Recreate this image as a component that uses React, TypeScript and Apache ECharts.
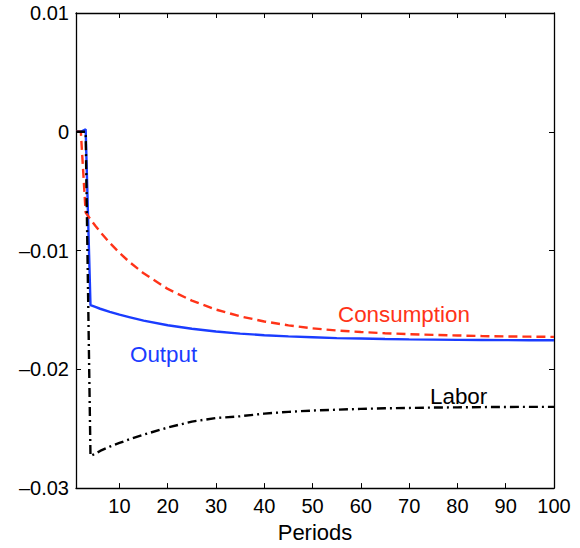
import React, { useEffect, useRef } from "react";
import * as echarts from "echarts";

const periods = [1, 2, 3, 4, 5, 6, 8, 10, 12, 15, 20, 25, 30, 35, 40, 45, 50, 55, 60, 65, 70, 75, 80, 85, 90, 95, 100];
const consumption = [0, 0, -0.0068, -0.00737, -0.00791, -0.00842, -0.00936, -0.01019, -0.01094, -0.01192, -0.01323, -0.01422, -0.01497, -0.01554, -0.01597, -0.0163, -0.01655, -0.01673, -0.01686, -0.01696, -0.01704, -0.0171, -0.01715, -0.0172, -0.01723, -0.01725, -0.01727];
const output = [0, 0, 0.0002, -0.0146, -0.01475, -0.0149, -0.01516, -0.0154, -0.0156, -0.0159, -0.01629, -0.01658, -0.01681, -0.01699, -0.01713, -0.01723, -0.0173, -0.01737, -0.01741, -0.01745, -0.01748, -0.0175, -0.01752, -0.01753, -0.01754, -0.01755, -0.01755];
const labor = [0, 0, 0, -0.0273, -0.0271, -0.02687, -0.0265, -0.0262, -0.0259, -0.0255, -0.0249, -0.0244, -0.0241, -0.02395, -0.02373, -0.02358, -0.02347, -0.0234, -0.02333, -0.02328, -0.02325, -0.02322, -0.0232, -0.02318, -0.02317, -0.02316, -0.02316];

const xTicks = [10, 20, 30, 40, 50, 60, 70, 80, 90, 100];
const yTicks = [-0.03, -0.02, -0.01, 0, 0.01];

const FONT = '"Liberation Sans", Arial, Helvetica, sans-serif';
const RED = "#ff3318";
const BLUE = "#1a3cff";

const pairs = (ys: number[]) => periods.map((p, i) => [p, ys[i]]);

export default function App() {
  const ref = useRef<HTMLDivElement>(null);
  useEffect(() => {
    if (!ref.current) return;
    const chart = echarts.init(ref.current, undefined, { renderer: "svg" });
    const tickStyle = { show: true, inside: true, length: 5, lineStyle: { color: "#000", width: 1 } };
    const axisLine = { show: true, onZero: false, lineStyle: { color: "#000", width: 1.3 } };
    chart.setOption({
      animation: false,
      backgroundColor: "#fff",
      grid: { left: 76, right: 26, top: 13, bottom: 56, containLabel: false },
      xAxis: [
        {
          type: "value",
          min: 1,
          max: 100,
          position: "bottom",
          axisLine,
          axisTick: { ...tickStyle, customValues: xTicks },
          axisLabel: { customValues: xTicks, color: "#000", fontSize: 20, fontFamily: FONT, margin: 8 },
          splitLine: { show: false },
          name: "Periods",
          nameLocation: "middle",
          nameGap: 28,
          nameTextStyle: { color: "#000", fontSize: 22, fontFamily: FONT },
        },
        {
          type: "value",
          min: 1,
          max: 100,
          position: "top",
          axisLine,
          axisTick: { ...tickStyle, customValues: xTicks },
          axisLabel: { show: false },
          splitLine: { show: false },
        },
      ],
      yAxis: [
        {
          type: "value",
          min: -0.03,
          max: 0.01,
          position: "left",
          axisLine,
          axisTick: { ...tickStyle, customValues: yTicks },
          axisLabel: {
            customValues: yTicks,
            color: "#000",
            fontSize: 20,
            fontFamily: FONT,
            margin: 7,
            formatter: (v: number) => {
              const r = Math.round(v * 100) / 100;
              if (r === 0) return "0";
              return r < 0 ? "\u2013" + Math.abs(r).toFixed(2) : r.toFixed(2);
            },
          },
          splitLine: { show: false },
        },
        {
          type: "value",
          min: -0.03,
          max: 0.01,
          position: "right",
          axisLine,
          axisTick: { ...tickStyle, customValues: yTicks },
          axisLabel: { show: false },
          splitLine: { show: false },
        },
      ],
      series: [
        {
          name: "Consumption",
          type: "line",
          data: pairs(consumption),
          showSymbol: false,
          lineStyle: { color: RED, width: 2.4, type: [9, 5] },
          z: 3,
        },
        {
          name: "Output",
          type: "line",
          data: pairs(output),
          showSymbol: false,
          lineStyle: { color: BLUE, width: 2.4, type: "solid" },
          z: 2,
        },
        {
          name: "Labor",
          type: "line",
          data: pairs(labor),
          showSymbol: false,
          lineStyle: { color: "#000", width: 2.4, type: [9, 4, 2, 4] },
          z: 4,
        },
      ],
      graphic: [
        { type: "text", x: 338, y: 314, style: { text: "Consumption", fill: RED, font: `22.4px ${FONT}`, align: "left", verticalAlign: "middle" } },
        { type: "text", x: 130, y: 354, style: { text: "Output", fill: BLUE, font: `22.4px ${FONT}`, align: "left", verticalAlign: "middle" } },
        { type: "text", x: 430, y: 396, style: { text: "Labor", fill: "#000", font: `22.4px ${FONT}`, align: "left", verticalAlign: "middle" } },
      ],
    });
    return () => chart.dispose();
  }, []);
  return <div ref={ref} style={{ width: 580, height: 548, position: "absolute", left: 0, top: 0 }} />;
}
